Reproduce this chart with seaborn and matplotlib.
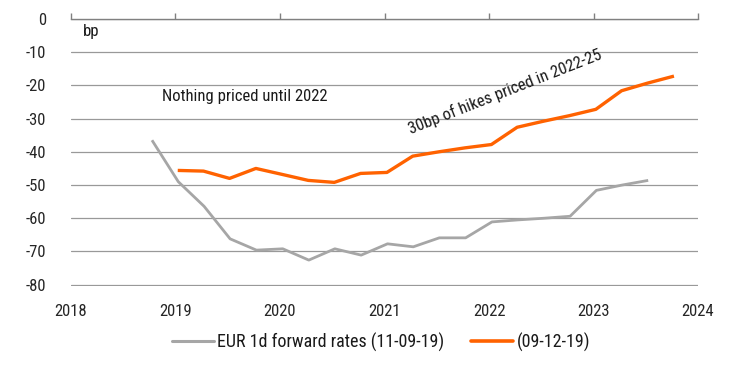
import pandas as pd
import matplotlib
matplotlib.use("Agg")
import matplotlib.pyplot as plt
import matplotlib.dates as mdates
from matplotlib import font_manager
import seaborn as sns

# ── Data ─────────────────────────────────────────────────────────────────────
sep_dates = pd.date_range("2018-10-11", periods=20, freq=pd.DateOffset(months=3))
sep_rates = [-36.5, -49.0, -56.4, -66.2, -69.6, -69.2, -72.6, -69.2, -71.1, -67.7,
             -68.6, -65.9, -65.9, -61.1, -60.5, -60.0, -59.4, -51.6, -50.0, -48.6]

dec_dates = pd.date_range("2019-01-09", periods=20, freq=pd.DateOffset(months=3))
dec_rates = [-45.6, -45.8, -48.0, -45.0, -46.8, -48.6, -49.2, -46.5, -46.2, -41.3,
             -40.0, -38.8, -37.8, -32.6, -30.8, -29.1, -27.2, -21.6, -19.3, -17.2]

series_labels = ["EUR 1d forward rates (11-09-19)", "(09-12-19)"]
series_colors = ["#A6A6A6", "#FF6200"]
y_ticks = list(range(0, -90, -10))
x_years = list(range(2018, 2025))

df = pd.concat([
    pd.DataFrame({"date": sep_dates, "rate": sep_rates, "series": series_labels[0]}),
    pd.DataFrame({"date": dec_dates, "rate": dec_rates, "series": series_labels[1]}),
])

# ── Style ────────────────────────────────────────────────────────────────────
sns.set_theme(style="white")
# the original uses a condensed house font; take a narrow face if one is around
installed = {f.name for f in font_manager.fontManager.ttflist}
narrow = [n for n in ["Liberation Sans Narrow", "Roboto Condensed",
                      "Open Sans Condensed", "Noto Sans Condensed"] if n in installed]
FONT = narrow[0] if narrow else "Lato"
plt.rcParams["font.family"] = [FONT, "DejaVu Sans"]
plt.rcParams["text.color"] = "#1a1a1a"
plt.rcParams["axes.unicode_minus"] = False
FS = 12 if narrow else 11
FS_LEG = 13 if narrow else 11

fig = plt.figure(figsize=(7.44, 3.84), dpi=100)
ax = fig.add_axes([71 / 744, 1 - 286 / 384, 627 / 744, 267 / 384])

sns.lineplot(data=df, x="date", y="rate", hue="series", hue_order=series_labels,
             palette=dict(zip(series_labels, series_colors)), ax=ax, legend=False)
for line, lw in zip(ax.lines, [2.0, 2.4]):
    line.set_linewidth(lw)
    line.set_solid_capstyle("butt")

ax.set_xlim(pd.Timestamp("2018-01-01"), pd.Timestamp("2024-01-01"))
ax.set_ylim(-80.4, 0)
ax.set_xticks([pd.Timestamp(f"{y}-01-01") for y in x_years])
ax.xaxis.set_major_formatter(mdates.DateFormatter("%Y"))
ax.set_yticks(y_ticks)
ax.set_xlabel("")
ax.set_ylabel("")

for s in ["left", "right", "bottom"]:
    ax.spines[s].set_visible(False)
ax.spines["top"].set_color("#808080")
ax.spines["top"].set_linewidth(1.0)

ax.grid(axis="y", color="#999999", linewidth=0.9)
ax.grid(axis="x", visible=False)
ax.set_axisbelow(True)

ax.tick_params(axis="x", bottom=False, top=True, labelbottom=True, labeltop=False,
               direction="out", length=4, color="#808080", width=1.0,
               labelsize=FS, pad=9)
ax.tick_params(axis="y", left=False, labelsize=FS, pad=12)

# ── Annotations ──────────────────────────────────────────────────────────────
ax.text(pd.Timestamp("2018-02-10"), -3.8, "bp", fontsize=FS, va="center", ha="left")
ax.text(pd.Timestamp("2018-11-15"), -23.4, "Nothing priced until 2022",
        fontsize=FS, va="center", ha="left")
ax.text(pd.Timestamp("2022-02-25"), -21.8, "30bp of hikes priced in 2022-25",
        fontsize=FS, va="center", ha="center", rotation=21.5)

# ── Legend ───────────────────────────────────────────────────────────────────
handles = [plt.Line2D([], [], color=c, linewidth=lw)
           for c, lw in zip(series_colors, [2.2, 2.6])]
fig.legend(handles, series_labels, loc="center", bbox_to_anchor=(381 / 744, 1 - 342 / 384),
           ncol=2, frameon=False, fontsize=FS_LEG, handlelength=2.3, handletextpad=0.2,
           columnspacing=1.5)

fig.savefig("out.png", dpi=100)
